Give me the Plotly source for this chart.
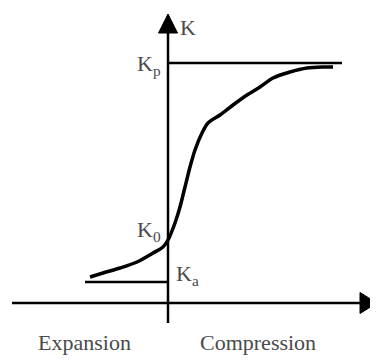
import plotly.graph_objects as go

# Curve K vs strain (expansion negative, compression positive)
curve_x = [-78, -65, -48, -31, -15, -5, 0, 7, 12, 17, 22, 27, 34, 40, 52, 65, 79, 92, 105, 122, 139, 155, 165]
curve_y = [26, 30, 35, 41, 50, 56, 63, 80, 96, 116, 136, 153, 170, 180, 188, 198, 208, 216, 225, 231, 235, 236, 236]

K_p = 240
K_0 = 63
K_a = 21
kp_line_x = [0, 174]
ka_line_x = [-83, 0]

# ranges compensate for the page's 8px body margin
XR = [-160, 218]
YR = [-65, 295]

fig = go.Figure()

# axes
fig.add_trace(go.Scatter(x=[0, 0], y=[-20, 275], mode="lines",
                         line=dict(color="black", width=2.5), hoverinfo="skip"))
fig.add_trace(go.Scatter(x=[-156, 196], y=[0, 0], mode="lines",
                         line=dict(color="black", width=2.5), hoverinfo="skip"))
# Kp and Ka lines
fig.add_trace(go.Scatter(x=kp_line_x, y=[K_p, K_p], mode="lines",
                         line=dict(color="black", width=2.5), hoverinfo="skip"))
fig.add_trace(go.Scatter(x=ka_line_x, y=[K_a, K_a], mode="lines",
                         line=dict(color="black", width=2.5), hoverinfo="skip"))
# curve
fig.add_trace(go.Scatter(x=curve_x, y=curve_y, mode="lines",
                         line=dict(color="black", width=3.5, shape="spline", smoothing=0.8),
                         hoverinfo="skip"))

# arrow heads
fig.add_shape(type="path", path="M -9.5 270 L 9.5 270 L 0 289 Z",
              fillcolor="black", line=dict(color="black", width=1))
fig.add_shape(type="path", path="M 192 -10.5 L 192 10.5 L 209 0 Z",
              fillcolor="black", line=dict(color="black", width=1))

font = dict(family="Liberation Serif", size=22, color="#4a4a4a")
ann = [
    dict(x=10, y=276, text="K", xanchor="left", yanchor="middle"),
    dict(x=-5, y=238, text="K<sub>p</sub>", xanchor="right", yanchor="middle"),
    dict(x=-5, y=72, text="K<sub>0</sub>", xanchor="right", yanchor="middle"),
    dict(x=6, y=28, text="K<sub>a</sub>", xanchor="left", yanchor="middle"),
    dict(x=-84, y=-39, text="Expansion", xanchor="center", yanchor="middle"),
    dict(x=90, y=-39, text="Compression", xanchor="center", yanchor="middle"),
]
for a in ann:
    fig.add_annotation(**a, showarrow=False, font=font, xref="x", yref="y")

fig.update_layout(
    width=378, height=360, autosize=False,
    margin=dict(l=0, r=0, t=0, b=0),
    paper_bgcolor="white", plot_bgcolor="white",
    showlegend=False,
    xaxis=dict(range=XR, visible=False, fixedrange=True),
    yaxis=dict(range=YR, visible=False, fixedrange=True),
)

fig.write_html("out.html")
